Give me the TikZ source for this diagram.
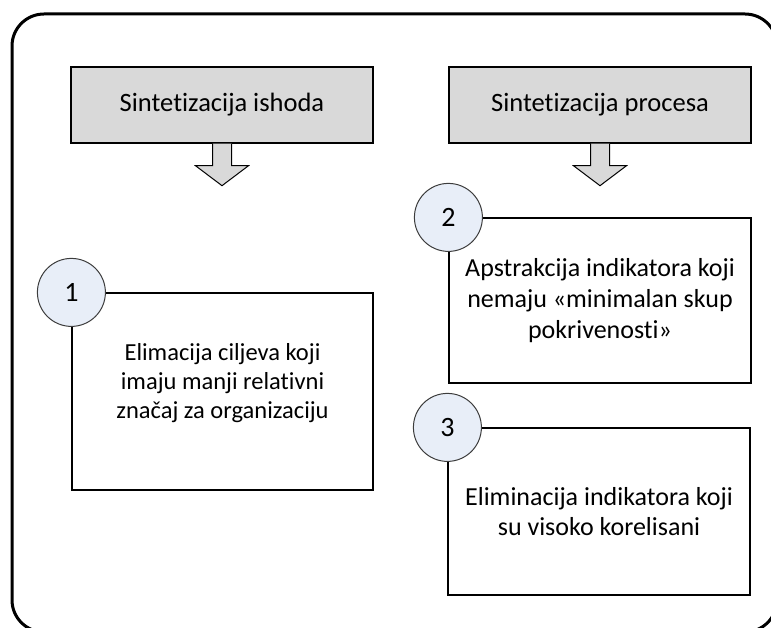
\documentclass[tikz,border=0pt]{standalone}
\usepackage{fontspec}
\setmainfont{Carlito}[RawFeature=-liga]
\usetikzlibrary{calc}
\definecolor{hdrgray}{RGB}{217,217,217}
\definecolor{circblue}{RGB}{232,238,248}
\definecolor{edgegray}{RGB}{60,60,60}
\tikzset{
  header/.style={draw=black, fill=hdrgray, line width=1.4pt, minimum width=302pt, minimum height=76pt, inner sep=0pt, font=\fontsize{26.5}{30}\selectfont},
  stepbox/.style={draw=black, fill=white, line width=1.2pt, inner sep=0pt, align=center},
  boxtext/.style={align=center, inner sep=0pt},
  numcirc/.style={circle, draw=edgegray, fill=circblue, line width=1pt, minimum size=68pt, inner sep=0pt, font=\fontsize{28}{30}\selectfont},
  blockarrow/.style={draw=black, fill=hdrgray, line width=1pt, line join=miter},
  frame/.style={draw=black, line width=3pt, rounded corners=32pt}
}
\begin{document}
\begin{tikzpicture}[x=1pt,y=-1pt]
\useasboundingbox (0,0) rectangle (771,628);
\draw[frame] (12,14) rectangle (777,632);

\node[header] (h1) at (222,105) {Sintetizacija ishoda};
\node[header] (h2) at (600,105) {Sintetizacija procesa};

% block arrows
\foreach \h in {h1,h2}{
  \draw[blockarrow] ($(\h.south)+(-9.5,0)$) -- ++(0,22) -- ++(-17,0) -- ($(\h.south)+(0,42)$) -- ($(\h.south)+(26.5,22)$) -- ++(-17,0) -- ($(\h.south)+(9.5,0)$);
}

\node[stepbox, minimum width=301pt, minimum height=197pt] (b1) at (222.5,391.5) {};
\node[boxtext, font=\fontsize{24.5}{29}\selectfont] (t1) at (222.5,383) {Elimacija ciljeva koji\\imaju manji relativni\\značaj za organizaciju};
\node[stepbox, minimum width=302pt, minimum height=165pt, font=\fontsize{26}{31}\selectfont] (b2) at (600,300.5) {Apstrakcija indikatora koji\\nemaju «minimalan skup\\pokrivenosti»};
\node[stepbox, minimum width=302pt, minimum height=167pt, font=\fontsize{26}{30}\selectfont] (b3) at (599,511.5) {Eliminacija indikatora koji\\su visoko korelisani};

\node[numcirc] (c1) at (b1.north west) {1};
\node[numcirc] (c2) at (b2.north west) {2};
\node[numcirc] (c3) at (b3.north west) {3};
\end{tikzpicture}
\end{document}
